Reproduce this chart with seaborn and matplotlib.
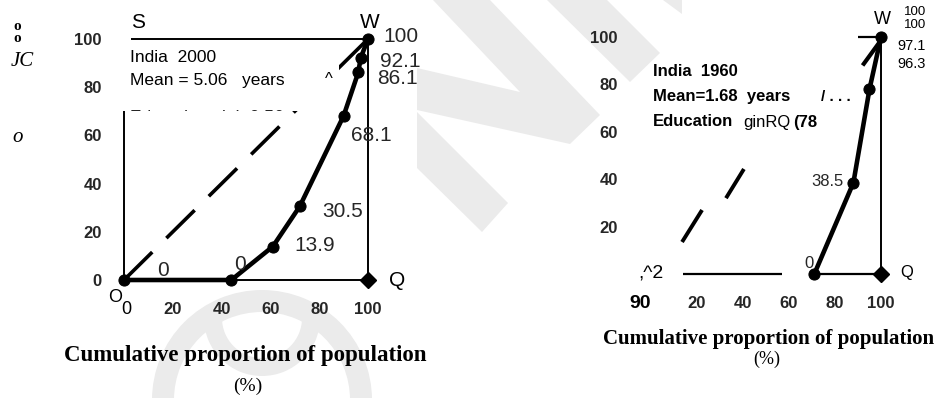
import matplotlib
matplotlib.use("Agg")
import matplotlib.pyplot as plt
import seaborn as sns
from matplotlib.patches import Rectangle, Polygon, Wedge
from matplotlib.transforms import Bbox, TransformedBbox

# ---------------- data ----------------
left_x = [0, 44, 61, 72, 90, 96, 97, 100]
left_y = [0, 0, 13.9, 30.5, 68.1, 86.1, 92.1, 100]
left_labels = ["0", "0", "13.9", "30.5", "68.1", "86.1", "92.1", "100"]

right_x = [71, 88, 95, 100]
right_y = [0, 38.5, 78, 100]
right_labels = ["0", "38.5"]
right_top_labels = ["100", "100", "97.1", "96.3"]

x_ticks = [20, 40, 60, 80, 100]
left_y_ticks = [0, 20, 40, 60, 80, 100]
right_y_ticks = [20, 40, 60, 80, 100]

left_info = ["India  2000", "Mean = 5.06   years", "Education gini=0.56"]
right_info = ["India  1960", "Mean=1.68  years", "Education", "ginRQ", "(78"]
x_label = "Cumulative proportion of population"
x_unit = "(%)"

# ---------------- style ----------------
sns.set_theme(style="white")
SANS = ["Liberation Sans", "DejaVu Sans"]
SERIF = ["Liberation Serif", "DejaVu Serif"]
plt.rcParams["font.family"] = SANS

W, H = 937, 398
fig = plt.figure(figsize=(W / 100, H / 100), dpi=100)
fig.patch.set_facecolor("white")

# ---------- faint watermark in the background ----------
WM = "#ebebeb"
bg = fig.add_axes([0, 0, 1, 1], zorder=-5)
bg.set_xlim(0, W)
bg.set_ylim(H, 0)
bg.axis("off")
for poly in (
    [(433, 0), (490, 0), (600, 115), (570, 144), (417, 110), (417, 68), (520, 92)],
    [(417, 112), (508, 203), (482, 232), (417, 168)],
    [(547, 0), (607, 0), (660, 53), (630, 82)],
    [(663, 0), (682, 0), (682, 14)],
):
    bg.add_patch(Polygon(poly, closed=True, facecolor=WM, edgecolor="none"))
outer = Wedge((262, 400), 110, 0, 360, width=22, facecolor=WM, edgecolor="none")
bg.add_patch(outer)
outer.set_clip_path(Rectangle((0, 289), W, H, transform=bg.transData))
inner = Wedge((262, 318), 58, 0, 360, width=18, facecolor=WM, edgecolor="none")
bg.add_patch(inner)
inner.set_clip_path(Rectangle((0, 307), W, H, transform=bg.transData))


def fx(p):
    return p / W


def fy(p):
    return 1 - p / H


def ftext(px, py, s, **kw):
    kw.setdefault("va", "center")
    kw.setdefault("color", "black")
    return fig.text(fx(px), fy(py), s, **kw)


def make_axes(x0, x100, y0, y100):
    ax = fig.add_axes([fx(x0), fy(y0), (x100 - x0) / W, (y0 - y100) / H])
    ax.set_xlim(0, 100)
    ax.set_ylim(0, 100)
    ax.set_facecolor("none")
    for s in ax.spines.values():
        s.set_visible(False)
    ax.set_xlabel("")
    ax.set_ylabel("")
    return ax


TICK_FS = 12

# ================= LEFT PANEL =================
ax1 = make_axes(124, 368, 280, 39)
ax1.set_xticks(x_ticks)
ax1.set_yticks(left_y_ticks)
ax1.set_xticklabels([str(v) for v in x_ticks], fontweight="bold", fontsize=TICK_FS)
ax1.set_yticklabels([str(v) for v in left_y_ticks], fontweight="bold", fontsize=TICK_FS)
ax1.tick_params(axis="x", length=0, pad=16)
ax1.tick_params(axis="y", length=0, pad=16)

lk = dict(color="black", clip_on=False, solid_capstyle="butt")
# frame of the Lorenz box
ax1.plot([0, 100], [0, 0], lw=1.4, zorder=1, **lk)
ax1.plot([100, 100], [0, 100], lw=1.4, zorder=1, **lk)
ax1.plot([3, 100], [100, 100], lw=1.4, zorder=1, **lk)
ax1.plot([0, 0], [0, 71], lw=1.4, zorder=1, **lk)
# line of equality (dashed)
ax1.plot([0, 100], [0, 100], lw=2.6, dashes=(11, 5.5), zorder=1, **lk)
# white panel behind the info text
ax1.add_patch(Rectangle((-3, 70.2), 91, 28.6, facecolor="white",
                        edgecolor="none", zorder=2, clip_on=False))

sns.lineplot(x=left_x, y=left_y, ax=ax1, sort=False, estimator=None,
             color="black", lw=3.3, marker="o", markersize=8,
             markeredgecolor="black", clip_on=False, zorder=5)
ax1.plot([left_x[-1]], [left_y[0]], marker="D", markersize=8, color="black",
         clip_on=False, zorder=5)

left_offsets = [(33, 10), (3, 15), (22, 1), (23, -5), (7, -20), (19, -6),
                (19, -3), (15, 2)]
for xv, yv, lab, off in zip(left_x, left_y, left_labels, left_offsets):
    ax1.annotate(lab, (xv, yv), xytext=off, textcoords="offset pixels",
                 fontsize=15, ha="left", va="center", zorder=6)

ftext(130, 57, left_info[0], fontsize=12.5, ha="left", zorder=6)
ftext(130, 81, left_info[1], fontsize=12.5, ha="left", zorder=6)
t = ax1.text(2.5, 67.5, left_info[2], fontsize=12.5, ha="left",
             va="center", zorder=6)
t.set_clip_box(TransformedBbox(Bbox([[-10, 70.2], [110, 110]]), ax1.transData))
t.set_clip_on(True)

ftext(138, 22, "S", fontsize=15, ha="center")
ftext(370, 22, "W", fontsize=15, ha="center")
ftext(329, 80, "^", fontsize=12, ha="center")
ftext(397, 280, "Q", fontsize=15, ha="center")
ftext(115, 298, "O", fontsize=13, ha="center")
ftext(126, 310, "0", fontsize=13, ha="center")

# garbled y-axis caption
ftext(17, 27, "o", fontsize=11, ha="center", family=SERIF, fontweight="bold")
ftext(17, 39, "o", fontsize=11, ha="center", family=SERIF, fontweight="bold")
ftext(22, 62, "JC", fontsize=15, ha="center", family=SERIF, style="italic")
ftext(18, 137, "o", fontsize=15, ha="center", family=SERIF, style="italic")

ftext(245, 355, x_label, fontsize=16.5, ha="center", family=SERIF,
      fontweight="bold")
ftext(248, 386, x_unit, fontsize=14, ha="center", family=SERIF)

# ================= RIGHT PANEL =================
ax2 = make_axes(651, 881, 274, 37)
ax2.set_xticks(x_ticks)
ax2.set_yticks(right_y_ticks)
ax2.set_xticklabels([str(v) for v in x_ticks], fontweight="bold", fontsize=TICK_FS)
ax2.set_yticklabels([str(v) for v in right_y_ticks], fontweight="bold", fontsize=TICK_FS)
ax2.tick_params(axis="x", length=0, pad=16)
ax2.tick_params(axis="y", length=0, pad=24)

ax2.plot([14, 57], [0, 0], lw=1.6, zorder=1, **lk)
ax2.plot([right_x[0], 100], [0, 0], lw=1.6, zorder=1, **lk)
ax2.plot([100, 100], [0, 100], lw=1.4, zorder=1, **lk)
ax2.plot([90, 100], [100, 100], lw=1.6, zorder=1, **lk)
# fragments of the equality line
ax2.plot([13.5, 22.2], [13.5, 27], lw=2.8, zorder=1, **lk)
ax2.plot([32.6, 40.4], [32, 44.3], lw=2.8, zorder=1, **lk)
ax2.plot([92, 99.5], [88, 98], lw=3, zorder=1, **lk)

sns.lineplot(x=right_x, y=right_y, ax=ax2, sort=False, estimator=None,
             color="black", lw=3.3, marker="o", markersize=8,
             markeredgecolor="black", clip_on=False, zorder=5)
ax2.plot([right_x[-1]], [right_y[0]], marker="D", markersize=8, color="black",
         clip_on=False, zorder=5)

ax2.annotate(right_labels[0], (right_x[0], right_y[0]), xytext=(-5, 11),
             textcoords="offset pixels", fontsize=12, ha="center", va="center")
ax2.annotate(right_labels[1], (right_x[1], right_y[1]), xytext=(-10, 1),
             textcoords="offset pixels", fontsize=12, ha="right", va="center")

for py, lab, fs in zip([12, 25.5, 46, 64], right_top_labels, [9.5, 9.5, 10.5, 10.5]):
    ftext(926, py, lab, fontsize=fs, ha="right")
ftext(882, 20, "W", fontsize=13, ha="center")
ftext(907, 273, "Q", fontsize=12, ha="center")

ftext(653, 72, right_info[0], fontsize=12, ha="left", fontweight="bold")
ftext(653, 96, right_info[1], fontsize=12, ha="left", fontweight="bold")
ftext(821, 97, "/ . . .", fontsize=11, ha="left", fontweight="bold")
ftext(653, 122, right_info[2], fontsize=12, ha="left", fontweight="bold")
ftext(743, 122, right_info[3], fontsize=12, ha="left")
ftext(793, 122, right_info[4], fontsize=12, ha="left", fontweight="bold")

ftext(638, 273, ",^2", fontsize=14, ha="left")
ftext(640, 304, "90", fontsize=14, ha="center", fontweight="bold")

ftext(769, 339, x_label, fontsize=15, ha="center", family=SERIF,
      fontweight="bold")
ftext(767, 359, x_unit, fontsize=13, ha="center", family=SERIF)

fig.savefig("out.png", dpi=100)
